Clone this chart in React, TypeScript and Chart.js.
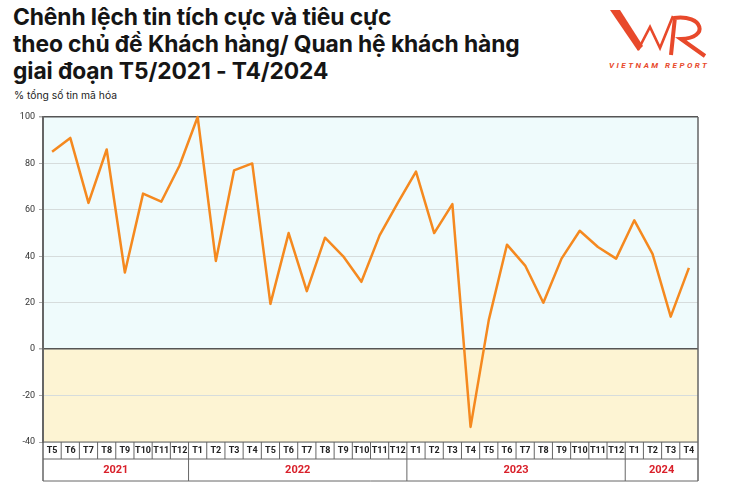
import React, { useEffect, useRef } from 'react';
import { Chart, registerables } from 'chart.js';
Chart.register(...registerables);

const monthLabels = [
  'T5', 'T6', 'T7', 'T8', 'T9', 'T10', 'T11', 'T12',
  'T1', 'T2', 'T3', 'T4', 'T5', 'T6', 'T7', 'T8', 'T9', 'T10', 'T11', 'T12',
  'T1', 'T2', 'T3', 'T4', 'T5', 'T6', 'T7', 'T8', 'T9', 'T10', 'T11', 'T12',
  'T1', 'T2', 'T3', 'T4',
];
const years = ['2021', '2022', '2023', '2024'];
const yearSpans = [8, 12, 12, 4];
const values = [
  85, 91, 63, 86, 33, 67, 63.5, 79,
  100, 38, 77, 80, 19.5, 50, 25, 48, 40, 29, 49, 63,
  76.5, 50, 62.5, -33.5, 12.5, 45, 36, 20, 39, 51, 44, 39,
  55.5, 41, 14, 35,
];
const yMin = -40;
const yMax = 100;
const yStep = 20;

const titleLines = [
  'Chênh lệch tin tích cực và tiêu cực',
  'theo chủ đề Khách hàng/ Quan hệ khách hàng',
  'giai đoạn T5/2021 - T4/2024',
];
const subtitle = '% tổng số tin mã hóa';

export default function App() {
  const ref = useRef<HTMLCanvasElement>(null);
  useEffect(() => {
    document.body.style.margin = '0';
    const canvas = ref.current!;
    const bgPlugin = {
      id: 'bgBands',
      beforeDraw(chart: any) {
        const { ctx, chartArea, scales } = chart;
        const y0 = scales.y.getPixelForValue(0);
        const w = chartArea.right - chartArea.left;
        ctx.save();
        ctx.fillStyle = '#effbfc';
        ctx.fillRect(chartArea.left, chartArea.top, w, y0 - chartArea.top);
        ctx.fillStyle = '#fdf4d3';
        ctx.fillRect(chartArea.left, y0, w, chartArea.bottom - y0);
        ctx.restore();
      },
    };
    const tablePlugin = {
      id: 'monthTable',
      afterDraw(chart: any) {
        const { ctx, chartArea, scales } = chart;
        const x = scales.x;
        const n = monthLabels.length;
        const top = chartArea.bottom;
        const r1 = top + 17;
        const r2 = top + 39;
        const bounds: number[] = [];
        for (let i = 0; i <= n; i++) {
          if (i === 0) bounds.push(chartArea.left);
          else if (i === n) bounds.push(chartArea.right);
          else bounds.push((x.getPixelForValue(i - 1) + x.getPixelForValue(i)) / 2);
        }
        ctx.save();
        ctx.strokeStyle = '#666';
        ctx.lineWidth = 1;
        ctx.beginPath();
        ctx.moveTo(chartArea.left, top); ctx.lineTo(chartArea.right, top);
        ctx.moveTo(chartArea.left, r1); ctx.lineTo(chartArea.right, r1);
        ctx.moveTo(chartArea.left, r2); ctx.lineTo(chartArea.right, r2);
        for (let i = 1; i < n; i++) {
          ctx.moveTo(bounds[i], top); ctx.lineTo(bounds[i], r1);
        }
        let idx = 0;
        for (let k = 0; k < yearSpans.length - 1; k++) {
          idx += yearSpans[k];
          ctx.moveTo(bounds[idx], r1); ctx.lineTo(bounds[idx], r2);
        }
        ctx.stroke();
        ctx.lineWidth = 1.5;
        ctx.beginPath();
        ctx.moveTo(chartArea.left, top); ctx.lineTo(chartArea.left, r2);
        ctx.moveTo(chartArea.right, chartArea.top); ctx.lineTo(chartArea.right, r2);
        ctx.stroke();
        ctx.textAlign = 'center';
        ctx.textBaseline = 'middle';
        ctx.fillStyle = '#222';
        ctx.font = 'bold 9px Roboto, sans-serif';
        for (let i = 0; i < n; i++) {
          ctx.fillText(monthLabels[i], (bounds[i] + bounds[i + 1]) / 2, (top + r1) / 2 + 0.5);
        }
        ctx.fillStyle = '#d9202a';
        ctx.font = 'bold 11px Roboto, sans-serif';
        let s = 0;
        for (let k = 0; k < years.length; k++) {
          const a = bounds[s];
          const b = bounds[s + yearSpans[k]];
          ctx.fillText(years[k], (a + b) / 2, (r1 + r2) / 2 + 0.5);
          s += yearSpans[k];
        }
        ctx.restore();
      },
    };
    const chart = new Chart(canvas, {
      type: 'line',
      data: {
        labels: monthLabels,
        datasets: [
          {
            data: values,
            borderColor: '#f5891f',
            borderWidth: 2.5,
            borderJoinStyle: 'round',
            pointRadius: 0,
            tension: 0,
            fill: false,
            clip: false as any,
          },
        ],
      },
      options: {
        responsive: false,
        animation: false,
        layout: { padding: { left: 0, right: 32, top: 17, bottom: 49 } },
        plugins: { legend: { display: false }, tooltip: { enabled: false } },
        scales: {
          x: { display: false, offset: true },
          y: {
            min: yMin,
            max: yMax,
            afterFit(scale: any) { scale.width = 43; },
            ticks: {
              stepSize: yStep,
              color: '#333',
              padding: 4,
              font: { family: 'Roboto, sans-serif', size: 9 },
            },
            border: { display: true, color: '#666', width: 2 },
            grid: {
              tickLength: 4,
              tickColor: '#aaa',
              color: (c: any) => (c.tick && (c.tick.value === 0 || c.tick.value === yMax) ? '#555' : '#d6dcdc'),
              lineWidth: (c: any) => (c.tick && (c.tick.value === 0 || c.tick.value === yMax) ? 1.5 : 1),
            },
          },
        },
      },
      plugins: [bgPlugin, tablePlugin],
    });
    return () => chart.destroy();
  }, []);

  return (
    <div style={{ position: 'relative', width: 730, height: 491, background: '#fff', overflow: 'hidden' }}>
      <div style={{ position: 'absolute', left: 13, top: 3, fontFamily: 'Inter, sans-serif', fontWeight: 700, fontSize: 22.8, lineHeight: '27px', color: '#151515', whiteSpace: 'nowrap', letterSpacing: -0.1 }}>
        {titleLines.map((t, i) => (<div key={i}>{t}</div>))}
      </div>
      <div style={{ position: 'absolute', left: 14, top: 89, fontFamily: 'Inter, sans-serif', fontSize: 10.3, color: '#222', whiteSpace: 'nowrap' }}>
        {subtitle}
      </div>
      <svg style={{ position: 'absolute', left: 0, top: 0 }} width={730} height={100}>
        <polygon points="610,10 620,10 643,46 638,51" fill="#e8492b" />
        <polyline points="638,50 650,27 660,48 673,16" fill="none" stroke="#e8492b" strokeWidth={2.6} strokeLinejoin="miter" />
        <path d="M675,17 L671,55 M674,18 C703,14 710,38 681,39 L705,56" fill="none" stroke="#e8492b" strokeWidth={4} />
        <text x={609} y={68} fontFamily="Roboto, sans-serif" fontWeight={700} fontStyle="italic" fontSize={8} letterSpacing={2.5} fill="#e8492b">VIETNAM REPORT</text>
      </svg>
      <canvas ref={ref} width={730} height={391} style={{ position: 'absolute', left: 0, top: 100 }} />
    </div>
  );
}
